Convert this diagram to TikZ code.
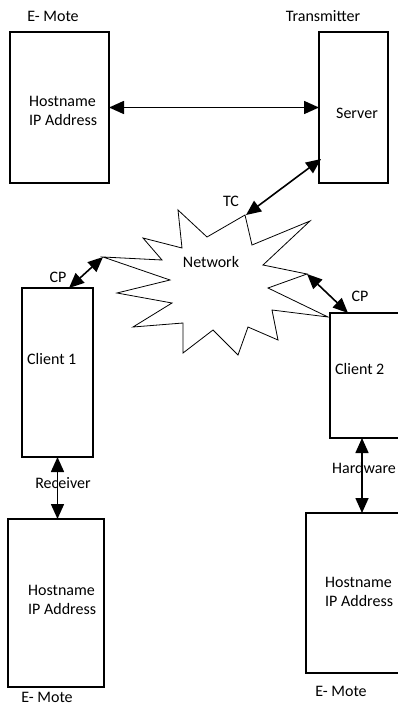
\documentclass[tikz,border=0pt]{standalone}
\usepackage{fontspec}
\setmainfont{Carlito}
\usepackage{tikz}
\usetikzlibrary{arrows.meta,positioning}

\begin{document}
\begin{tikzpicture}[x=1pt,y=-1pt,
  font=\fontsize{16}{18.5}\selectfont,
  box/.style={draw,line width=1.1pt,inner sep=0pt,outer sep=0pt},
  txt/.style={inner sep=0pt,align=left,anchor=west},
  lbl/.style={inner sep=0pt},
  tip/.tip={Triangle[length=15pt,width=13pt]},
  link/.style={line width=1.6pt,tip-tip}]
\useasboundingbox (0,0) rectangle (398,706);
% the motes, the server and the two clients
\node[box,minimum width=99pt,minimum height=151pt] (moteA) at (59.5,107.5) {};
\node[box,minimum width=69pt,minimum height=151pt] (server) at (353.5,107.5) {};
\node[box,minimum width=71pt,minimum height=169pt] (client1) at (57.5,372.5) {};
\node[box,minimum width=72pt,minimum height=125pt] (client2) at (366,375.5) {};
\node[box,minimum width=96pt,minimum height=168pt] (moteB) at (56,603) {};
\node[box,minimum width=96pt,minimum height=160pt] (moteC) at (354,593) {};
% texts inside the boxes
\node[txt] (hostA) at (29,111) {Hostname\\IP Address};
\node[lbl] (srv) at (357,113) {Server};
\node[txt] (cl1) at (27,359) {Client 1};
\node[txt] (cl2) at (335,369) {Client 2};
\node[txt] (hostB) at (28,600) {Hostname\\IP Address};
\node[txt] (hostC) at (325,592) {Hostname\\IP Address};
% captions round the boxes
\node[lbl] (capA) at (53,16) {E- Mote};
\node[lbl] (capS) at (323,16) {Transmitter};
\node[lbl] (capB) at (47,697) {E- Mote};
\node[lbl] (capC) at (341,691) {E- Mote};
% the network cloud
\draw[line width=0.8pt] (178,210) -- (207,237) -- (245,215) -- (252,245) -- (310,221)
  -- (263,265) -- (307,274) -- (268,288) -- (328,317) -- (272,310) -- (278,340)
  -- (248,327) -- (238,355) -- (213,330) -- (183,353) -- (183,323) -- (133,327)
  -- (172,303) -- (117,293) -- (170,280) -- (103,257) -- (162,260) -- (143,238)
  -- (182,248) -- cycle;
\coordinate (netTC) at (246,215);
\coordinate (netL) at (103,257);
\coordinate (netR) at (307,274);
\node[lbl] (net) at (211,262) {Network};
% links
\draw[link] (moteA.east) -- (server.west);
\draw[link] ([xshift=2pt,yshift=24pt]server.south west) -- (netTC);
\node[lbl] (tc) at (231,201) {TC};
\draw[link] ([xshift=47pt]client1.north west) -- (netL);
\node[lbl] (cpA) at (58,277) {CP};
\draw[link] (netR) -- ([xshift=18pt]client2.north west);
\node[lbl] (cpB) at (360,296) {CP};
\draw[link] (client1.south) -- (client1.south |- moteB.north);
\node[lbl] (rcv) at (63,483) {Receiver};
\draw[link] ([xshift=32pt]client2.south west) -- ([xshift=32pt]client2.south west |- moteC.north);
\node[lbl] (hw) at (364,468) {Hardware};
\end{tikzpicture}
\end{document}
